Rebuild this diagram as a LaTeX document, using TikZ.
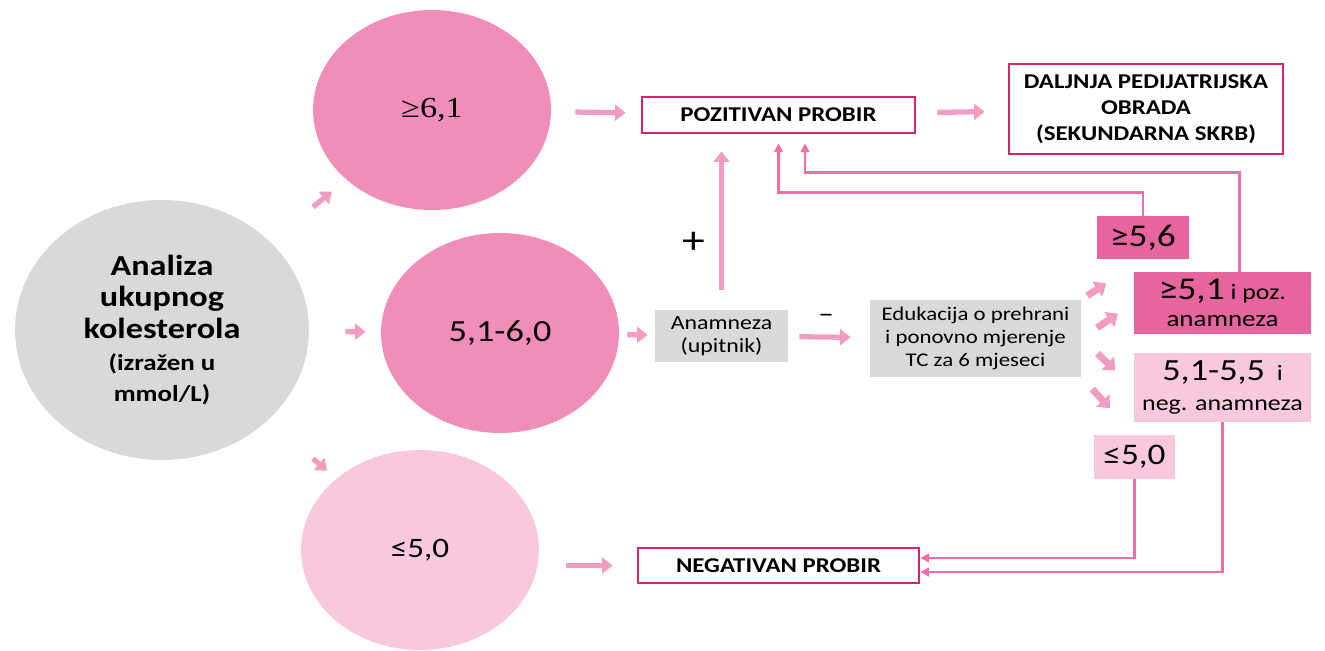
\documentclass[tikz,border=0pt]{standalone}
\usepackage{fontspec}
\setmainfont[FakeStretch=1.18]{Carlito}
\newfontfamily\timesfont[FakeStretch=1.18]{Liberation Serif}
\newcommand{\unitline}{\fontsize{13}{14}\selectfont}
\usetikzlibrary{arrows.meta}
\usetikzlibrary{shapes.geometric}

\definecolor{rim}{HTML}{D6246E}
\definecolor{pinkA}{HTML}{F08DB8}
\definecolor{pinkB}{HTML}{F8C9DD}
\definecolor{pinkC}{HTML}{E8649E}
\definecolor{greyA}{HTML}{D9D9D9}
\definecolor{arrowpink}{HTML}{F29CC3}
\definecolor{linepink}{HTML}{EE6FA7}

\begin{document}
\begin{tikzpicture}[x=0.02cm, y=-0.02cm,
        blob/.style={ellipse, minimum width=4.76cm, minimum height=4cm, inner sep=0pt},
        probir/.style={draw=rim, line width=1.6pt, fill=white, font=\bfseries\fontsize{12}{14}\selectfont},
        grey/.style={fill=greyA, align=center, font=\fontsize{11}{13}\selectfont},
        fat/.style={arrowpink, line width=3pt, -{Triangle[length=6pt,width=9pt]}},
        chunk/.style={arrowpink, line width=4pt, -{Triangle[length=6pt,width=10pt]}},
        link/.style={linepink, line width=1.4pt, -{Triangle[length=5pt,width=5pt]}}]
        \useasboundingbox (0,0) rectangle (1325,651);
        \node[ellipse, fill=greyA, minimum width=5.88cm, minimum height=5.2cm, align=center,
                font=\bfseries\fontsize{16.5}{18}\selectfont] (total) at (162,330)
                {Analiza\\ukupnog\\kolesterola\\{\unitline(izražen u}\\{\unitline mmol/L)}};
        \node[blob, fill=pinkA, font=\timesfont\fontsize{16.5}{19}\selectfont] (high) at (432,110) {≥6,1};
        \node[blob, fill=pinkA, font=\fontsize{17.5}{21}\selectfont] (mid) at (500,333) {5,1-6,0};
        \node[blob, fill=pinkB, font=\fontsize{16}{19}\selectfont] (low) at (420,550) {≤5,0};
        \node[probir, minimum width=5.46cm, minimum height=0.72cm] (poz) at (778.5,115) {POZITIVAN PROBIR};
        \node[probir, minimum width=5.48cm, minimum height=1.8cm, align=center,
                font=\bfseries\fontsize{12}{14.7}\selectfont] (dalj) at (1146,109)
                {DALJNJA PEDIJATRIJSKA\\OBRADA\\(SEKUNDARNA SKRB)};
        \node[probir, minimum width=5.62cm, minimum height=0.7cm] (neg) at (778.5,565.5) {NEGATIVAN PROBIR};
        \node[grey, minimum width=2.66cm, minimum height=1.04cm, font=\fontsize{11.5}{13}\selectfont] (ana) at (721.5,336) {Anamneza\\(upitnik)};
        \node[grey, minimum width=4.22cm, minimum height=1.54cm] (edu) at (975.5,338.5)
                {Edukacija o prehrani\\i ponovno mjerenje\\TC za 6 mjeseci};
        \node[fill=pinkC, minimum width=1.84cm, minimum height=0.86cm, font=\fontsize{18}{20}\selectfont] (b56) at (1143,237.5) {≥5,6};
        \node[fill=pinkC, minimum width=3.54cm, minimum height=1.24cm, align=center,
                font=\fontsize{13}{15}\selectfont] (b51) at (1222.5,303)
                {{\fontsize{18}{20}\selectfont ≥5,1}{\fontsize{12.5}{15}\selectfont\ i poz.}\\anamneza};
        \node[fill=pinkB, minimum width=3.54cm, minimum height=1.38cm, align=center,
                font=\fontsize{12.5}{17}\selectfont] (b55) at (1222.5,387.5)
                {{\fontsize{17.5}{20}\selectfont 5,1-5,5} \ i\\neg. anamneza};
        \node[fill=pinkB, minimum width=1.62cm, minimum height=0.88cm, font=\fontsize{17}{19}\selectfont] (b50) at (1134.5,457) {≤5,0};
        \node[font=\fontsize{22}{24}\selectfont] (plus) at (694,243) {+};
        \node[font=\fontsize{15}{17}\selectfont] (minus) at (826,318) {--};

        \draw[fat, shorten <=1.1cm, shorten >=0.37cm] (total) -- (high);
        \draw[fat, shorten <=0.72cm, shorten >=0.3cm] (total) -- (mid);
        \draw[fat, shorten <=1.18cm, shorten >=0.24cm] (total) -- (low);
        \draw[fat, shorten <=0.48cm, shorten >=0.3cm] (high) -- (poz);
        \draw[fat, shorten <=0.42cm, shorten >=0.46cm] (poz) -- (dalj);
        \draw[fat, shorten <=0.16cm, shorten >=0.14cm] (mid) -- (ana);
        \draw[fat, shorten <=0.4cm, shorten >=0.34cm] (ana) -- (ana |- poz.south);
        \draw[fat, shorten <=0.22cm, shorten >=0.38cm] (ana) -- (edu);
        \draw[fat, shorten <=2.92cm, shorten >=0.48cm] (neg -| low) -- (neg);

        \draw[chunk, shorten <=0.14cm, shorten >=0.88cm] (edu.north east) -- (b56.south);
        \draw[chunk, shorten <=0.38cm, shorten >=0.38cm] (edu.east) -- (b51.west);
        \draw[chunk, shorten <=0.44cm, shorten >=0.5cm] (edu.east) -- (b55.west);
        \draw[chunk, shorten <=0.32cm, shorten >=0.72cm] (edu.south east) -- (b50.north);

        \draw[link, shorten >=0.18cm] (b56.north) -- ++(0,-23) -| (poz.south);
        \draw[link, shorten >=0.18cm] ([xshift=0.34cm]b51.north) -- ++(0,-99) -| ([xshift=0.53cm]poz.south);
        \draw[link] (b55.south) |- ([yshift=-0.13cm]neg.east);
        \draw[link] (b50.south) |- ([yshift=0.15cm]neg.east);
    \end{tikzpicture}
\end{document}
